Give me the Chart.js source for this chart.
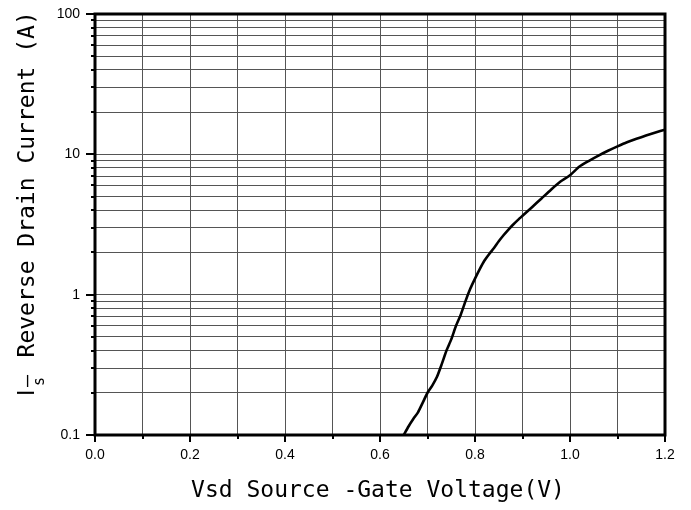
<!DOCTYPE html>
<html>
<head>
<meta charset="utf-8">
<script src="https://cdn.jsdelivr.net/npm/chart.js@4.4.1/dist/chart.umd.min.js"></script>
<style>
  html, body { margin: 0; padding: 0; background: #fff; }
  #wrap { width: 691px; height: 510px; position: relative; }
</style>
</head>
<body>
<div id="wrap"><canvas id="c"></canvas></div>
<script>
// ---- data ----
const voltage = [0.65, 0.66, 0.67, 0.68, 0.69, 0.70, 0.71, 0.72, 0.73, 0.74, 0.75, 0.76, 0.77, 0.78, 0.79, 0.80,
                 0.81, 0.82, 0.83, 0.84, 0.85, 0.86, 0.87, 0.88, 0.89, 0.90, 0.92, 0.94, 0.96, 0.98, 1.00,
                 1.02, 1.04, 1.06, 1.08, 1.10, 1.12, 1.14, 1.16, 1.18, 1.20];
const current = [0.10, 0.115, 0.13, 0.145, 0.17, 0.20, 0.225, 0.26, 0.32, 0.40, 0.48, 0.60, 0.72, 0.90, 1.10, 1.30,
                 1.52, 1.75, 1.95, 2.15, 2.40, 2.65, 2.90, 3.15, 3.40, 3.65, 4.20, 4.85, 5.60, 6.40, 7.10,
                 8.20, 9.00, 9.80, 10.6, 11.4, 12.2, 12.9, 13.6, 14.3, 15.0];
const xTickValues = [0, 0.1, 0.2, 0.3, 0.4, 0.5, 0.6, 0.7, 0.8, 0.9, 1.0, 1.1, 1.2];
const xTickLabels = ['0.0', '', '0.2', '', '0.4', '', '0.6', '', '0.8', '', '1.0', '', '1.2'];
const yTickValues = [0.1, 0.2, 0.3, 0.4, 0.5, 0.6, 0.7, 0.8, 0.9,
                     1, 2, 3, 4, 5, 6, 7, 8, 9,
                     10, 20, 30, 40, 50, 60, 70, 80, 90, 100];
const yMajorValues = [0.1, 1, 10, 100];
const yMajorLabels = ['0.1', '1', '10', '100'];
const xTitle = 'Vsd Source -Gate Voltage(V)';
const yTitleMain = 'I';
const yTitleSub = 's';
const yTitleDash = '—';
const yTitleRest = ' Reverse Drain Current (A)';

const points = voltage.map((v, i) => ({ x: v, y: current[i] }));

const framePlugin = {
  id: 'frame',
  afterDraw(chart) {
    const { ctx, chartArea: a, scales } = chart;
    const x = scales.x, y = scales.y;
    ctx.save();
    ctx.strokeStyle = '#000';
    ctx.lineCap = 'butt';
    // x ticks
    ctx.lineWidth = 2;
    xTickValues.forEach((v, i) => {
      const px = Math.round(x.getPixelForValue(v));
      const len = xTickLabels[i] ? 7 : 4;
      ctx.beginPath(); ctx.moveTo(px, a.bottom); ctx.lineTo(px, a.bottom + len); ctx.stroke();
    });
    // y ticks
    yTickValues.forEach(v => {
      const py = Math.round(y.getPixelForValue(v));
      const len = yMajorValues.includes(v) ? 9 : 4;
      ctx.beginPath(); ctx.moveTo(a.left, py); ctx.lineTo(a.left - len, py); ctx.stroke();
    });
    // frame
    ctx.lineWidth = 3;
    ctx.strokeRect(a.left, a.top, a.right - a.left, a.bottom - a.top);

    // titles
    ctx.fillStyle = '#000';
    ctx.font = '23px "DejaVu Sans Mono"';
    ctx.textAlign = 'center';
    ctx.textBaseline = 'alphabetic';
    ctx.fillText(xTitle, (a.left + a.right) / 2 - 2, 497);

    ctx.translate(34, 399);
    ctx.rotate(-Math.PI / 2);
    ctx.textAlign = 'left';
    ctx.font = '23px "Liberation Sans"';
    ctx.fillText(yTitleMain, 3, 0);
    ctx.font = '20px "DejaVu Sans Mono"';
    ctx.fillText(yTitleDash, 12, -1);
    ctx.font = '15px "DejaVu Sans Mono"';
    ctx.fillText(yTitleSub, 13, 10);
    ctx.font = '23px "DejaVu Sans Mono"';
    ctx.fillText(yTitleRest, 27.7, 0);
    ctx.restore();
  }
};

new Chart(document.getElementById('c'), {
  type: 'line',
  data: {
    datasets: [{
      data: points,
      borderColor: '#000',
      borderWidth: 2.6,
      pointRadius: 0,
      tension: 0.2,
      fill: false
    }]
  },
  options: {
    responsive: true,
    maintainAspectRatio: false,
    animation: false,
    events: [],
    layout: { padding: { left: 0, right: 26, top: 14, bottom: 0 } },
    plugins: { legend: { display: false }, tooltip: { enabled: false } },
    scales: {
      x: {
        type: 'linear',
        min: 0, max: 1.2,
        afterBuildTicks: s => { s.ticks = xTickValues.map(v => ({ value: v })); },
        afterFit: s => { s.height = 75; s.paddingLeft = 0; s.paddingRight = 0; },
        ticks: {
          autoSkip: false,
          maxRotation: 0,
          padding: 12,
          color: '#000',
          font: { family: '"Liberation Sans", Arial', size: 14 },
          callback: (v, i) => xTickLabels[i]
        },
        grid: { color: '#555', lineWidth: 1, drawTicks: false },
        border: { display: false }
      },
      y: {
        type: 'logarithmic',
        min: 0.1, max: 100,
        afterBuildTicks: s => { s.ticks = yTickValues.map(v => ({ value: v })); },
        afterFit: s => { s.width = 95; s.paddingTop = 0; s.paddingBottom = 0; },
        ticks: {
          autoSkip: false,
          padding: 15,
          color: '#000',
          font: { family: '"Liberation Sans", Arial', size: 14 },
          callback: (v) => {
            const k = yMajorValues.indexOf(v);
            return k >= 0 ? yMajorLabels[k] : '';
          }
        },
        grid: { color: '#555', lineWidth: 1, drawTicks: false },
        border: { display: false }
      }
    }
  },
  plugins: [framePlugin]
});
</script>
</body>
</html>
